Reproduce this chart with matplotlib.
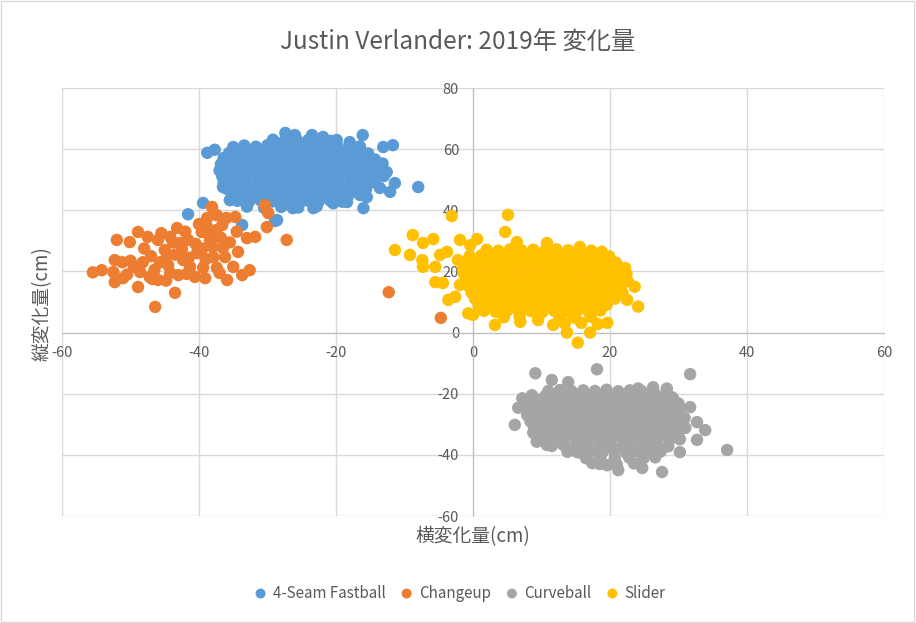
import matplotlib
matplotlib.use("Agg")
import matplotlib.pyplot as plt
from matplotlib.patches import Rectangle

plt.rcParams['font.family'] = ['Noto Sans CJK JP', 'DejaVu Sans']

title = "Justin Verlander: 2019年 変化量"
x_label = "横変化量(cm)"
y_label = "縦変化量(cm)"
series_names = ["4-Seam Fastball", "Changeup", "Curveball", "Slider"]
series_colors = ["#5B9BD5", "#ED7D31", "#A5A5A5", "#FFC000"]
x_ticks = [-60, -40, -20, 0, 20, 40, 60]
y_ticks = [-60, -40, -20, 0, 20, 40, 60, 80]

fastball = [
    (-41.6, 38.7), (-39.4, 42.4), (-33.7, 35.2), (-28.9, 36.5), (-38.8, 58.8), (-37.7, 59.8),
    (-27.4, 65.3), (-26.0, 64.6), (-23.5, 64.6), (-21.9, 64.0), (-16.1, 64.6), (-18.0, 62.3),
    (-13.1, 60.7), (-11.7, 61.3), (-19.9, 63.0), (-12.6, 52.5), (-11.4, 48.9), (-12.1, 46.0),
    (-13.6, 47.3), (-8.0, 47.6), (-16.0, 40.7), (-15.5, 44.3), (-36.9, 53.1), (-36.5, 47.6),
    (-35.5, 43.3), (-35.0, 60.7), (-23.3, 40.7), (-28.6, 36.8), (-26.3, 40.7), (-20.4, 42.3),
    (-18.4, 42.7),
    (-29.2, 63.1), (-27.5, 62.8), (-25.8, 63.3), (-24.1, 62.9), (-22.4, 63.2), (-20.8, 62.7),
    (-33.4, 61.2), (-31.7, 60.8), (-30.0, 61.3), (-28.3, 60.9), (-26.6, 61.1), (-24.9, 60.7),
    (-23.2, 61.2), (-21.5, 60.9), (-19.8, 61.1), (-18.1, 60.6), (-16.5, 60.9),
    (-35.6, 58.8), (-34.0, 59.2), (-32.3, 58.9), (-30.6, 59.1), (-28.9, 58.7), (-27.2, 59.2),
    (-25.5, 58.9), (-23.8, 59.1), (-22.1, 58.8), (-20.4, 59.2), (-18.7, 58.9), (-17.0, 59.1),
    (-15.3, 58.6),
    (-36.4, 57.1), (-34.7, 56.8), (-33.0, 57.2), (-31.3, 56.9), (-29.6, 57.1), (-27.9, 56.7),
    (-26.2, 57.2), (-24.5, 56.9), (-22.8, 57.1), (-21.1, 56.8), (-19.4, 57.2), (-17.7, 56.9),
    (-16.0, 57.0), (-14.3, 56.6),
    (-36.8, 55.1), (-35.1, 54.8), (-33.4, 55.2), (-31.7, 54.9), (-30.0, 55.1), (-28.3, 54.7),
    (-26.6, 55.2), (-24.9, 54.9), (-23.2, 55.1), (-21.5, 54.8), (-19.8, 55.2), (-18.1, 54.9),
    (-16.4, 55.1), (-14.7, 54.8), (-13.2, 55.3),
    (-37.0, 53.0), (-35.4, 53.2), (-33.7, 52.8), (-32.0, 53.1), (-30.3, 52.9), (-28.6, 53.2),
    (-26.9, 52.8), (-25.2, 53.1), (-23.5, 52.9), (-21.8, 53.2), (-20.1, 52.8), (-18.4, 53.1),
    (-16.7, 52.9), (-15.0, 53.2), (-13.4, 52.8),
    (-36.6, 51.1), (-34.9, 50.8), (-33.2, 51.2), (-31.5, 50.9), (-29.8, 51.1), (-28.1, 50.7),
    (-26.4, 51.2), (-24.7, 50.9), (-23.0, 51.1), (-21.3, 50.8), (-19.6, 51.2), (-17.9, 50.9),
    (-16.2, 51.1), (-14.5, 50.8), (-13.0, 51.2),
    (-36.4, 49.0), (-34.7, 49.2), (-33.0, 48.8), (-31.3, 49.1), (-29.6, 48.9), (-27.9, 49.2),
    (-26.2, 48.8), (-24.5, 49.1), (-22.8, 48.9), (-21.1, 49.2), (-19.4, 48.8), (-17.7, 49.1),
    (-16.0, 48.9), (-14.4, 49.2),
    (-36.0, 47.1), (-34.3, 46.8), (-32.6, 47.2), (-30.9, 46.9), (-29.2, 47.1), (-27.5, 46.7),
    (-25.8, 47.2), (-24.1, 46.9), (-22.4, 47.1), (-20.7, 46.8), (-19.0, 47.2), (-17.3, 46.9),
    (-15.6, 47.0),
    (-35.2, 45.0), (-33.5, 45.2), (-31.8, 44.8), (-30.1, 45.1), (-28.4, 44.9), (-26.7, 45.2),
    (-25.0, 44.8), (-23.3, 45.1), (-21.6, 44.9), (-19.9, 45.2), (-18.2, 44.8), (-16.5, 45.0),
    (-34.4, 43.1), (-32.7, 42.8), (-31.0, 43.2), (-29.3, 42.9), (-27.6, 43.1), (-25.9, 42.7),
    (-24.2, 43.2), (-22.5, 42.9), (-20.8, 43.1), (-19.1, 42.8),
    (-33.0, 41.2), (-30.5, 40.8), (-28.0, 41.1), (-25.5, 40.9), (-22.8, 41.3),
]

changeup = [
    (-55.5, 19.7), (-54.2, 20.4), (-52.0, 30.3), (-52.3, 23.7), (-52.5, 19.8), (-52.3, 16.5),
    (-51.2, 23.0), (-51.1, 17.8), (-50.1, 29.6), (-48.9, 32.9), (-48.9, 14.9), (-47.5, 31.3),
    (-48.2, 23.0), (-48.6, 19.8), (-47.2, 18.2), (-46.4, 8.4), (-46.0, 30.3), (-45.7, 23.0),
    (-46.0, 17.2), (-44.7, 24.7), (-44.2, 31.3), (-43.2, 34.2), (-43.5, 13.0), (-44.2, 19.5),
    (-42.8, 29.3), (-42.3, 23.7), (-43.0, 18.8), (-41.6, 30.3), (-41.3, 21.5), (-40.3, 26.0),
    (-40.6, 18.2), (-39.6, 32.9), (-39.4, 21.2), (-39.1, 17.8), (-38.8, 34.5), (-38.1, 41.1),
    (-37.4, 38.4), (-38.4, 30.3), (-37.9, 24.7), (-37.4, 21.2), (-36.6, 35.2), (-36.5, 27.7),
    (-36.2, 24.7), (-35.9, 17.2), (-35.0, 21.5), (-34.7, 37.8), (-34.3, 26.4), (-33.7, 18.8),
    (-33.0, 30.9), (-32.6, 20.4), (-31.8, 31.3), (-30.4, 41.7), (-29.9, 39.1), (-30.1, 34.5),
    (-27.2, 30.3), (-12.3, 13.2), (-4.7, 4.8),
    (-49.5, 21.5), (-50.5, 19.0), (-47.0, 25.0), (-46.5, 20.5), (-45.0, 27.0), (-44.5, 22.0),
    (-43.5, 25.5), (-42.5, 27.5), (-41.5, 24.5), (-40.5, 29.0), (-39.5, 27.5), (-39.0, 24.0),
    (-38.0, 28.0), (-38.5, 32.0), (-37.5, 33.5), (-36.8, 31.0), (-37.0, 19.5), (-41.8, 19.2),
    (-44.8, 17.0), (-46.8, 17.5), (-43.8, 29.5), (-40.0, 35.5), (-36.0, 37.5), (-38.8, 37.5),
    (-34.5, 33.0), (-35.5, 29.5), (-48.0, 27.5), (-50.0, 23.5), (-45.5, 32.5), (-42.0, 33.0),
]

curveball = [
    (9.1, -13.3), (18.1, -12.0), (31.7, -13.6), (11.5, -15.5), (13.9, -16.2), (26.3, -17.9),
    (28.3, -18.3), (24.1, -18.3), (8.6, -20.5), (7.2, -21.5), (6.6, -24.6), (8.8, -24.6),
    (6.1, -30.2), (8.8, -32.8), (9.3, -35.7), (29.2, -21.5), (31.7, -24.4), (30.9, -28.0),
    (32.7, -29.3), (33.9, -31.9), (32.7, -35.1), (37.1, -38.4), (30.2, -39.1), (27.6, -45.6),
    (24.7, -44.3), (21.2, -45.0), (17.4, -42.7), (19.6, -43.4), (15.2, -39.1), (10.8, -36.8),
    (11.0, -19.1), (12.7, -18.8), (14.4, -19.2), (16.1, -18.9), (17.8, -19.1), (19.5, -18.7),
    (21.2, -19.2), (22.9, -18.9), (24.6, -19.1), (26.3, -18.8),
    (8.8, -21.1), (10.5, -20.8), (12.2, -21.2), (13.9, -20.9), (15.6, -21.1), (17.3, -20.7),
    (19.0, -21.2), (20.7, -20.9), (22.4, -21.1), (24.1, -20.8), (25.8, -21.2), (27.5, -20.9),
    (29.0, -21.1),
    (8.0, -23.0), (9.7, -23.2), (11.4, -22.8), (13.1, -23.1), (14.8, -22.9), (16.5, -23.2),
    (18.2, -22.8), (19.9, -23.1), (21.6, -22.9), (23.3, -23.2), (25.0, -22.8), (26.7, -23.1),
    (28.4, -22.9), (30.0, -23.2),
    (8.3, -25.1), (10.0, -24.8), (11.7, -25.2), (13.4, -24.9), (15.1, -25.1), (16.8, -24.7),
    (18.5, -25.2), (20.2, -24.9), (21.9, -25.1), (23.6, -24.8), (25.3, -25.2), (27.0, -24.9),
    (28.7, -25.1), (30.3, -24.8),
    (7.9, -27.0), (9.6, -27.2), (11.3, -26.8), (13.0, -27.1), (14.7, -26.9), (16.4, -27.2),
    (18.1, -26.8), (19.8, -27.1), (21.5, -26.9), (23.2, -27.2), (24.9, -26.8), (26.6, -27.1),
    (28.3, -26.9), (30.0, -27.2),
    (8.4, -29.1), (10.1, -28.8), (11.8, -29.2), (13.5, -28.9), (15.2, -29.1), (16.9, -28.7),
    (18.6, -29.2), (20.3, -28.9), (22.0, -29.1), (23.7, -28.8), (25.4, -29.2), (27.1, -28.9),
    (28.8, -29.1), (30.4, -28.8),
    (8.9, -31.0), (10.6, -31.2), (12.3, -30.8), (14.0, -31.1), (15.7, -30.9), (17.4, -31.2),
    (19.1, -30.8), (20.8, -31.1), (22.5, -30.9), (24.2, -31.2), (25.9, -30.8), (27.6, -31.1),
    (29.3, -30.9), (31.0, -31.2),
    (9.5, -33.1), (11.2, -32.8), (12.9, -33.2), (14.6, -32.9), (16.3, -33.1), (18.0, -32.7),
    (19.7, -33.2), (21.4, -32.9), (23.1, -33.1), (24.8, -32.8), (26.5, -33.2), (28.2, -32.9),
    (29.9, -33.1),
    (10.0, -35.0), (11.7, -35.2), (13.4, -34.8), (15.1, -35.1), (16.8, -34.9), (18.5, -35.2),
    (20.2, -34.8), (21.9, -35.1), (23.6, -34.9), (25.3, -35.2), (27.0, -34.8), (28.7, -35.1),
    (30.2, -34.9),
    (11.5, -37.1), (13.2, -36.8), (14.9, -37.2), (16.6, -36.9), (18.3, -37.1), (20.0, -36.7),
    (21.7, -37.2), (23.4, -36.9), (25.1, -37.1), (26.8, -36.8), (28.5, -37.2),
    (13.8, -39.0), (15.5, -39.2), (17.2, -38.8), (18.9, -39.1), (20.6, -38.9), (22.3, -39.2),
    (24.0, -38.8), (25.7, -39.1), (27.4, -38.9),
    (16.5, -41.1), (18.6, -40.8), (20.7, -41.2), (22.8, -40.9), (24.9, -41.1), (26.6, -40.8),
    (18.5, -43.0), (21.0, -43.2), (23.5, -42.8),
]

slider = [
    (-11.4, 27.0), (-8.8, 31.9), (-9.2, 25.4), (-7.3, 29.3), (-5.8, 30.6), (-7.4, 23.7),
    (-7.3, 21.5), (-5.5, 21.5), (-4.8, 25.4), (-3.8, 26.4), (-3.1, 38.1), (-5.5, 16.5),
    (-4.4, 16.2), (-2.2, 23.7), (-1.9, 30.3), (-0.4, 28.6), (0.6, 30.6), (-3.6, 10.7),
    (-2.6, 11.7), (-1.9, 15.6), (-0.7, 6.3), (0.0, 5.8), (3.2, 2.5), (4.7, 32.9),
    (5.1, 38.5), (6.9, 3.5), (9.5, 4.1), (11.7, 2.5), (13.7, 0.0), (15.3, -3.3),
    (17.1, 0.0), (19.6, 3.2), (22.2, 21.1), (23.6, 15.0), (24.1, 8.5), (22.5, 10.7),
    (18.8, 26.4), (15.6, 28.0), (10.8, 29.3), (6.4, 29.6), (2.0, 26.4),
    (2.0, 27.1), (3.7, 26.8), (5.4, 27.2), (7.1, 26.9), (8.8, 27.1), (10.5, 26.7),
    (12.2, 27.2), (13.9, 26.9), (15.6, 27.1), (17.3, 26.8),
    (-0.5, 25.0), (1.2, 25.2), (2.9, 24.8), (4.6, 25.1), (6.3, 24.9), (8.0, 25.2),
    (9.7, 24.8), (11.4, 25.1), (13.1, 24.9), (14.8, 25.2), (16.5, 24.8), (18.2, 25.1),
    (19.9, 24.9),
    (-1.2, 23.1), (0.5, 22.8), (2.2, 23.2), (3.9, 22.9), (5.6, 23.1), (7.3, 22.7),
    (9.0, 23.2), (10.7, 22.9), (12.4, 23.1), (14.1, 22.8), (15.8, 23.2), (17.5, 22.9),
    (19.2, 23.1), (20.9, 22.8),
    (-1.5, 21.0), (0.2, 21.2), (1.9, 20.8), (3.6, 21.1), (5.3, 20.9), (7.0, 21.2),
    (8.7, 20.8), (10.4, 21.1), (12.1, 20.9), (13.8, 21.2), (15.5, 20.8), (17.2, 21.1),
    (18.9, 20.9), (20.6, 21.2), (22.0, 20.8),
    (-1.3, 19.1), (0.4, 18.8), (2.1, 19.2), (3.8, 18.9), (5.5, 19.1), (7.2, 18.7),
    (8.9, 19.2), (10.6, 18.9), (12.3, 19.1), (14.0, 18.8), (15.7, 19.2), (17.4, 18.9),
    (19.1, 19.1), (20.8, 18.8), (22.4, 19.2),
    (-1.0, 17.0), (0.7, 17.2), (2.4, 16.8), (4.1, 17.1), (5.8, 16.9), (7.5, 17.2),
    (9.2, 16.8), (10.9, 17.1), (12.6, 16.9), (14.3, 17.2), (16.0, 16.8), (17.7, 17.1),
    (19.4, 16.9), (21.1, 17.2), (22.6, 16.8),
    (-0.6, 15.1), (1.1, 14.8), (2.8, 15.2), (4.5, 14.9), (6.2, 15.1), (7.9, 14.7),
    (9.6, 15.2), (11.3, 14.9), (13.0, 15.1), (14.7, 14.8), (16.4, 15.2), (18.1, 14.9),
    (19.8, 15.1), (21.5, 14.8),
    (-0.2, 13.0), (1.5, 13.2), (3.2, 12.8), (4.9, 13.1), (6.6, 12.9), (8.3, 13.2),
    (10.0, 12.8), (11.7, 13.1), (13.4, 12.9), (15.1, 13.2), (16.8, 12.8), (18.5, 13.1),
    (20.2, 12.9), (21.8, 13.2),
    (0.3, 11.1), (2.0, 10.8), (3.7, 11.2), (5.4, 10.9), (7.1, 11.1), (8.8, 10.7),
    (10.5, 11.2), (12.2, 10.9), (13.9, 11.1), (15.6, 10.8), (17.3, 11.2), (19.0, 10.9),
    (20.7, 11.1),
    (0.8, 9.0), (2.5, 9.2), (4.2, 8.8), (5.9, 9.1), (7.6, 8.9), (9.3, 9.2),
    (11.0, 8.8), (12.7, 9.1), (14.4, 8.9), (16.1, 9.2), (17.8, 8.8), (19.5, 9.1),
    (1.6, 7.1), (3.3, 6.8), (5.0, 7.2), (6.7, 6.9), (8.4, 7.1), (10.1, 6.7),
    (11.8, 7.2), (13.5, 6.9), (15.2, 7.1), (16.9, 6.8), (18.6, 7.2),
    (4.5, 5.0), (6.8, 5.2), (9.5, 4.8), (12.6, 5.1), (14.8, 4.9), (17.2, 5.2),
    (13.4, 3.0), (15.8, 3.2), (18.2, 2.8),
]

series_data = [fastball, changeup, curveball, slider]

fig = plt.figure(figsize=(9.16, 6.23), dpi=100)
ax = fig.add_axes([62 / 916, 1 - 516 / 623, (884 - 62) / 916, (516 - 88) / 623])

for name, color, pts in zip(series_names, series_colors, series_data):
    xs = [p[0] for p in pts]
    ys = [p[1] for p in pts]
    ax.scatter(xs, ys, s=80, color=color, edgecolors='none', label=name, zorder=3)

ax.set_xlim(-60, 60)
ax.set_ylim(-60, 80)
ax.set_xticks(x_ticks)
ax.set_yticks(y_ticks)
ax.set_xticklabels([str(t) for t in x_ticks])
ax.set_yticklabels([str(t) for t in y_ticks])
ax.grid(True, color='#D9D9D9', linewidth=1.0, zorder=0)
ax.set_axisbelow(True)

for s in ['top', 'right']:
    ax.spines[s].set_visible(False)
ax.spines['left'].set_position(('data', 0))
ax.spines['bottom'].set_position(('data', 0))
ax.spines['left'].set_color('#BFBFBF')
ax.spines['bottom'].set_color('#BFBFBF')
ax.spines['left'].set_zorder(1)
ax.spines['bottom'].set_zorder(1)
ax.tick_params(axis='both', length=0, labelsize=10.5, labelcolor='#595959', pad=10)

fig.text(0.5, 1 - 42 / 623, title, ha='center', va='center', fontsize=17.5, color='#595959')
fig.text(473 / 916, 1 - 537 / 623, x_label, ha='center', va='center', fontsize=13.5, color='#595959')
fig.text(42 / 916, 1 - 304 / 623, y_label, ha='center', va='center', rotation=90,
         fontsize=13.5, color='#595959')

leg = fig.legend(loc='center', bbox_to_anchor=(460 / 916, 1 - 593 / 623), ncol=4, frameon=False,
                 fontsize=10.9, handlelength=0.8, handletextpad=0.4, columnspacing=1.0,
                 markerscale=0.8)
for t in leg.get_texts():
    t.set_color('#595959')

fig.patches.append(Rectangle((0.001, 0.001), 0.997, 0.997, transform=fig.transFigure,
                             fill=False, edgecolor='#D9D9D9', linewidth=1.0))

fig.savefig('out.png', dpi=100)
